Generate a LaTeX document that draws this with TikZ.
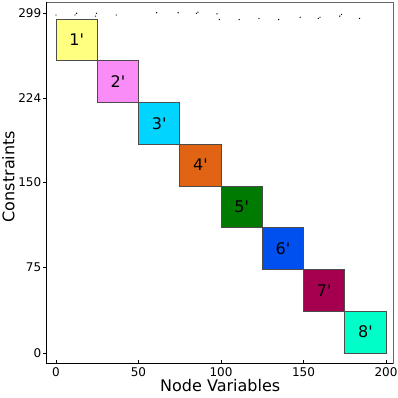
\documentclass[tikz,border=0pt]{standalone}
\usepackage{fontspec}
\setmainfont{DejaVu Sans}
\usetikzlibrary{positioning}
\definecolor{cBlkA}{RGB}{255,255,128}
\definecolor{cBlkB}{RGB}{250,140,248}
\definecolor{cBlkC}{RGB}{0,212,255}
\definecolor{cBlkD}{RGB}{224,100,20}
\definecolor{cBlkE}{RGB}{0,122,0}
\definecolor{cBlkF}{RGB}{0,80,240}
\definecolor{cBlkG}{RGB}{165,0,80}
\definecolor{cBlkH}{RGB}{0,255,200}
\tikzset{
	blk/.style    ={draw=black!70, line width=0.6pt},
	blklbl/.style ={font=\fontsize{16}{16}\selectfont, inner sep=0pt},
	ticklbl/.style={font=\fontsize{12}{12}\selectfont, inner sep=1.5pt},
	axlbl/.style  ={font=\fontsize{16}{16}\selectfont, inner sep=0pt},
}
\begin{document}
\begin{tikzpicture}[x=1.65pt, y=1.138pt]
	\useasboundingbox (-56pt,-45pt) rectangle (342pt,353pt);
	\draw[black!60, line width=0.6pt] (-6.1,-8.8) rectangle (204.2,308.4);
	\draw[black, line width=0.8pt] (-6.1,308.4) -- (-6.1,-8.8) -- (204.2,-8.8);
	% blocks on the diagonal
	\foreach \i/\c in {1/cBlkA,2/cBlkB,3/cBlkC,4/cBlkD,5/cBlkE,6/cBlkF,7/cBlkG,8/cBlkH} {
		\filldraw[blk, fill=\c] ({25*(\i-1)},{36.7*(8-\i)}) rectangle ({25*\i},{36.7*(9-\i)});
		\node[blklbl] (b\i) at ({25*\i-12.5},{36.7*(8.5-\i)}) {\i\textquotesingle};
	}
	% linking constraints
	\foreach \p in {(0,297),(11.5,297),(12.5,298.5),(24,296),(24.5,298.5),(36.5,297),(61,299),(74,299),(85,298.5),(86,299.5),(97.6,298),(99,293),(111,293),(123,294),(135,293),(148,295),(159,294),(160,295),(172,296),(173,297.5),(184,294)}
		\fill \p circle (0.7pt);
	\foreach \x in {0,50,100,150,200} {
		\draw (\x,-8.8) -- ++(0,3pt);
		\node[ticklbl] (tx\x) at (\x,-16.7) {\x};
	}
	\foreach \y in {0,75,150,224,299}
		\draw (-6.1,\y) -- ++(-3pt,0) node[left, ticklbl] (ty\y) {\y};
	\node[axlbl] (xlab) at (99.5,-28.5) {Node Variables};
	\node[axlbl, rotate=90] (ylab) at (-28.8,155) {Constraints};
\end{tikzpicture}
\end{document}
